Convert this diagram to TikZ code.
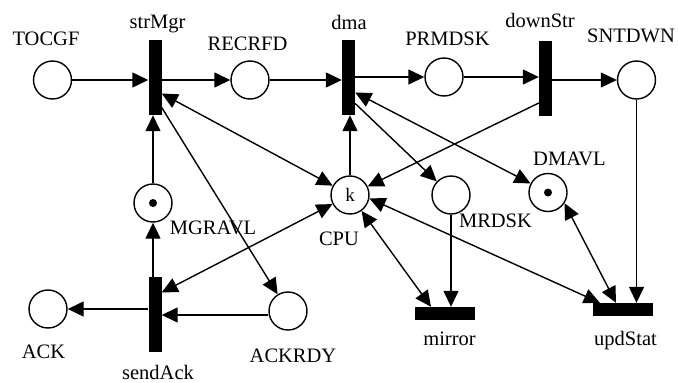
\documentclass[tikz,border=0pt]{standalone}
\usepackage{fontspec}
\setmainfont{Liberation Serif}
\usetikzlibrary{arrows.meta,calc}
\begin{document}
\begin{tikzpicture}[x=1pt,y=-1pt,
  place/.style={circle,draw,line width=1.4pt,minimum size=38pt,inner sep=0pt},
  vbar/.style={rectangle,fill=black,draw=none,minimum width=13pt,minimum height=75pt,inner sep=0pt},
  hbar/.style={rectangle,fill=black,draw=none,minimum width=60pt,minimum height=13pt,inner sep=0pt},
  token/.style={circle,fill=black,minimum size=8pt,inner sep=0pt},
  lbl/.style={anchor=base,inner sep=0pt,font=\fontsize{20.5}{24}\selectfont},
  arc/.style={line width=1.4pt,-{Triangle[length=16pt,width=15pt]}},
  biarc/.style={line width=1.4pt,{Triangle[length=16pt,width=15pt]}-{Triangle[length=16pt,width=15pt]}},
]
\useasboundingbox (0,0) rectangle (678,383);

% places
\node[place] (TOCGF)  at (52.5,80) {};
\node[place] (RECRFD) at (250,80) {};
\node[place] (PRMDSK) at (444,77) {};
\node[place] (SNTDWN) at (636.5,80) {};
\node[place] (MGRAVL) at (153,203) {};
\node[token] (tokM)   at (153,203) {};
\node[place,font=\fontsize{19}{22}\selectfont] (CPU) at (350,195) {k};
\node[place] (MRDSK)  at (451,195) {};
\node[place] (DMAVL)  at (548,192.5) {};
\node[token] (tokD)   at (548,192.5) {};
\node[place] (ACK)    at (48,309) {};
\node[place] (ACKRDY) at (288,311) {};

% transitions
\node[vbar] (strMgr)  at (155,77.5) {};
\node[vbar] (dma)     at (348.5,77.5) {};
\node[vbar] (downStr) at (545.5,78) {};
\node[vbar] (sendAck) at (155,314.5) {};
\node[hbar] (mirror)  at (445,313.5) {};
\node[hbar] (updStat) at (623,309.5) {};

% labels
\node[lbl] (tTOCGF)   at (46,45)    {TOCGF};
\node[lbl] (tstrMgr)  at (157.5,28) {strMgr};
\node[lbl] (tRECRFD)  at (247.5,50) {RECRFD};
\node[lbl] (tdma)     at (349,29)   {dma};
\node[lbl] (tPRMDSK)  at (447.5,45) {PRMDSK};
\node[lbl] (tdownStr) at (540,27)   {downStr};
\node[lbl] (tSNTDWN)  at (631,42)   {SNTDWN};
\node[lbl] (tDMAVL)   at (569.5,165) {DMAVL};
\node[lbl] (tMGRAVL)  at (213,234)  {MGRAVL};
\node[lbl] (tCPU)     at (339,245)  {CPU};
\node[lbl] (tMRDSK)   at (495.5,227) {MRDSK};
\node[lbl] (tACK)     at (43.5,358) {ACK};
\node[lbl] (tACKRDY)  at (293,362)  {ACKRDY};
\node[lbl] (tsendAck) at (158,379)  {sendAck};
\node[lbl] (tmirror)  at (449.5,345) {mirror};
\node[lbl] (tupdStat) at (625.5,345) {updStat};

% top row flow
\draw[arc] (TOCGF.east) -- (TOCGF.east -| strMgr.west);
\draw[arc] (strMgr.east |- RECRFD) -- (RECRFD.west);
\draw[arc] (RECRFD.east) -- (RECRFD.east -| dma.west);
\draw[arc] (dma.east |- PRMDSK) -- (PRMDSK.west);
\draw[arc] (PRMDSK.east) -- (PRMDSK.east -| downStr.west);
\draw[arc] (downStr.east |- SNTDWN) -- (SNTDWN.west);
\draw[arc] (SNTDWN.south) -- (SNTDWN.south |- updStat.north);

% manager side
\draw[biarc] ($(strMgr.east)+(0,16)$) -- (CPU);
\draw[arc] ($(strMgr.east)+(0,30)$) -- (ACKRDY);
\draw[arc] (MGRAVL.north) -- (MGRAVL.north |- strMgr.south);
\draw[arc] (MGRAVL.south |- sendAck.north) -- (MGRAVL.south);
\draw[biarc] ($(sendAck.east)+(0,-22)$) -- (CPU);
\draw[arc] ($(ACKRDY.west)+(0,4)$) -- ($(ACKRDY.west -| sendAck.east)+(0,4)$);
\draw[arc] (sendAck.west |- ACK) -- (ACK.east);

% disk side
\draw[arc] (CPU.north) -- (CPU.north |- dma.south);
\draw[biarc] ($(dma.east)+(0,15)$) -- (DMAVL);
\draw[arc] ($(dma.east)+(0,26)$) -- (MRDSK);
\draw[arc] ($(downStr.west)+(0,25)$) -- (CPU);
\draw[arc] (MRDSK.south) -- (MRDSK.south |- mirror.north);
\draw[biarc] (CPU) -- ($(mirror.north)+(-14,0)$);
\draw[biarc] (CPU.-10) -- ($(updStat.north west)+(7,0)$);
\draw[biarc] (DMAVL.-33) -- ($(updStat.north)+(-7,0)$);
\end{tikzpicture}
\end{document}
